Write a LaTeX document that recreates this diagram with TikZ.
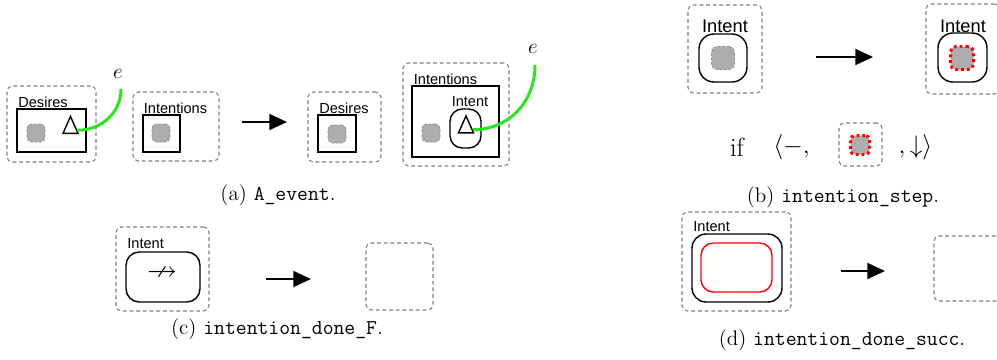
\documentclass[tikz,border=0pt]{standalone}
\usepackage{fontspec}
\setsansfont{Liberation Sans}
\usepackage{amssymb}
\usetikzlibrary{arrows.meta,shapes.geometric,calc}
\definecolor{evgreen}{RGB}{40,230,30}

\begin{document}
\begin{tikzpicture}[x=0.02cm, y=-0.02cm,
    frame/.style={draw=black!50, dash pattern=on 2.2pt off 1.6pt, rounded corners=3pt, line width=0.6pt, inner sep=0pt},
    store/.style={draw, line width=0.8pt, inner sep=0pt},
    intent/.style={draw, line width=0.8pt, inner sep=0pt, rounded corners=7pt},
    blob/.style={draw=black!45, dash pattern=on 1.5pt off 1pt, fill=black!32, rounded corners=2.5pt, minimum size=0.36cm, inner sep=0pt},
    goal/.style={draw=red, dash pattern=on 1.6pt off 1.7pt, line width=1.7pt, fill=black!32, rounded corners=3pt, minimum size=0.44cm, inner sep=0pt},
    tri/.style={draw, line width=0.8pt, isosceles triangle, isosceles triangle apex angle=48, isosceles triangle stretches, shape border rotate=90, minimum height=0.34cm, minimum width=0.3cm, inner sep=0pt},
    tag/.style={font=\sffamily\fontsize{8.3}{9}\selectfont, inner sep=0pt},
    trans/.style={line width=1.1pt, -{Triangle[length=10pt, width=9pt]}},
    evt/.style={evgreen, line width=1.7pt},
    caption/.style={font=\fontsize{12}{14}\selectfont, inner sep=0pt},
    big/.style={font=\fontsize{15}{18}\selectfont, inner sep=0pt}
]
\useasboundingbox (0,0) rectangle (997,359);
\clip (0,0) rectangle (997,359);

% (a) A_event
\node[frame, minimum width=1.78cm, minimum height=1.52cm] (desA) at (51.5,124) {};
\node[tag, anchor=west] (desAt) at (18,102) {Desires};
\node[store, minimum width=1.38cm, minimum height=0.86cm] (desAb) at (51.5,130.5) {};
\node[blob] (desAg) at (36,133) {};
\node[tri] (triA) at (70.5,128.5) {};
\coordinate (eA) at (121,89);
\node[font=\fontsize{13}{13}\selectfont, inner sep=0pt] (eAt) at (118,74) {$e$};
\draw[evt] ($(triA.apex)!0.8!(triA.right corner)$) .. controls +(24,0) and +(0,24) .. (eA);

\node[frame, minimum width=1.72cm, minimum height=1.38cm] (intA) at (176,126.5) {};
\node[tag] (intAt) at (175.5,108) {Intentions};
\node[store, minimum width=0.74cm, minimum height=0.74cm] (intAb) at (161.5,133.5) {};
\node[blob] (intAg) at (161,133) {};

\coordinate (mA1) at (242,122);
\coordinate (mA2) at (287,122);
\draw[trans] (mA1) -- (mA2);

\node[frame, minimum width=1.46cm, minimum height=1.40cm] (desB) at (344.5,127) {};
\node[tag] (desBt) at (344,108) {Desires};
\node[store, minimum width=0.76cm, minimum height=0.74cm] (desBb) at (337,133.5) {};
\node[blob] (desBg) at (337,134) {};

\node[frame, minimum width=2.12cm, minimum height=2.06cm] (intB) at (456,114.5) {};
\node[tag] (intBt) at (445.5,79) {Intentions};
\node[store, minimum width=1.74cm, minimum height=1.42cm] (intBb) at (455.5,121.5) {};
\node[tag] (icBt) at (470,102) {Intent};
\node[intent, minimum width=0.62cm, minimum height=0.78cm] (icB) at (465.5,128.5) {};
\node[tri] (triB) at (466,128) {};
\node[blob] (intBg) at (431,133) {};
\coordinate (eB) at (535,65);
\node[font=\fontsize{13}{13}\selectfont, inner sep=0pt] (eBt) at (533,49) {$e$};
\draw[evt] ($(triB.apex)!0.8!(triB.right corner)$) .. controls +(35,0) and +(0,38) .. (eB);

\node[caption] (capA) at (278,195) {(a) \texttt{A\_event}.};

% (b) intention_step
\node[frame, minimum width=1.48cm, minimum height=1.76cm] (stA) at (725,49) {};
\node[tag, font=\sffamily\fontsize{10.4}{11}\selectfont] (stAt) at (725,26) {Intent};
\node[intent, rounded corners=8.5pt, minimum width=0.96cm, minimum height=0.96cm] (stAb) at (723,58) {};
\node[blob, minimum size=0.46cm, rounded corners=3pt] (stAg) at (723,58) {};

\coordinate (mB1) at (816,57);
\coordinate (mB2) at (873,57);
\draw[trans] (mB1) -- (mB2);

\node[frame, minimum width=1.48cm, minimum height=1.80cm] (stB) at (963,49) {};
\node[tag, font=\sffamily\fontsize{10.4}{11}\selectfont] (stBt) at (963,26) {Intent};
\node[intent, rounded corners=8.5pt, minimum width=0.98cm, minimum height=0.98cm] (stBb) at (962.5,57.5) {};
\node[goal, minimum size=0.46cm] (stBg) at (962,58) {};

\node[big] (ifw) at (737,147) {if};
\node[big] (lhs) at (791.5,147) {$\langle -,$};
\node[frame, minimum width=0.86cm, minimum height=0.86cm] (stC) at (860.5,144.5) {};
\node[goal, minimum size=0.38cm, rounded corners=2.5pt] (stCg) at (860,145) {};
\node[big] (rhs) at (915.5,147) {$,\downarrow\rangle$};

\node[caption] (capB) at (843,197) {(b) \texttt{intention\_step}.};

% (c) intention_done_F
\node[frame, minimum width=1.86cm, minimum height=1.68cm] (dfA) at (162.5,269) {};
\node[tag, anchor=west] (dfAt) at (127,244) {Intent};
\node[intent, rounded corners=7.5pt, minimum width=1.48cm, minimum height=1.0cm] (dfAb) at (163,277) {};
\node[font=\fontsize{17}{17}\selectfont, inner sep=0pt] (dfAs) at (162,274) {$\nrightarrow$};

\coordinate (mC1) at (266,279);
\coordinate (mC2) at (311,279);
\draw[trans] (mC1) -- (mC2);

\node[frame, minimum width=1.34cm, minimum height=1.34cm] (dfB) at (399.5,276.5) {};

\node[caption] (capC) at (277,329) {(c) \texttt{intention\_done\_F}.};

% (d) intention_done_succ
\node[frame, minimum width=2.18cm, minimum height=1.98cm] (dsA) at (736.5,261.5) {};
\node[tag, anchor=west] (dsAt) at (693,227) {Intent};
\node[intent, rounded corners=8pt, minimum width=1.80cm, minimum height=1.36cm] (dsAb) at (737,268) {};
\node[draw=red, line width=0.8pt, rounded corners=7pt, inner sep=0pt, minimum width=1.42cm, minimum height=0.98cm] (dsAr) at (736.5,267.5) {};

\coordinate (mD1) at (841,271);
\coordinate (mD2) at (885,271);
\draw[trans] (mD1) -- (mD2);

\node[frame, minimum width=1.34cm, minimum height=1.30cm] (dsB) at (967.5,268.5) {};

\node[caption] (capD) at (842,340) {(d) \texttt{intention\_done\_succ}.};

\end{tikzpicture}
\end{document}
